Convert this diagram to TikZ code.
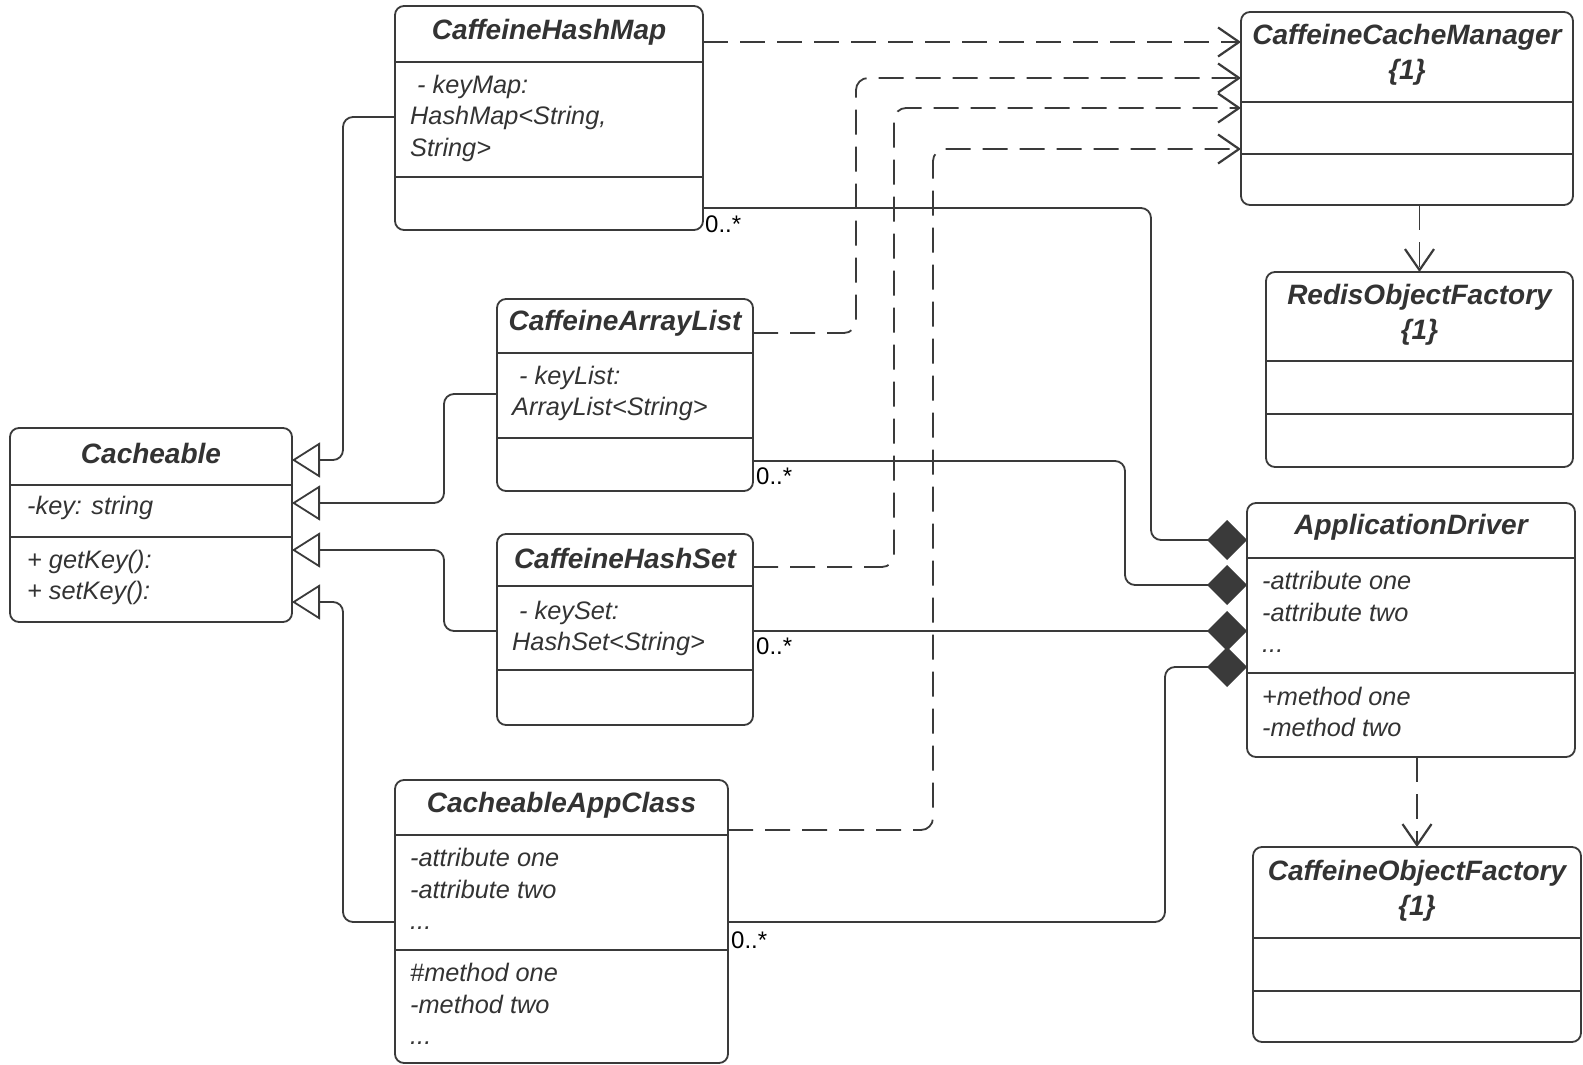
\documentclass[tikz,border=0pt]{standalone}
\usepackage{fontspec}
\setmainfont{Liberation Sans}
\usetikzlibrary{arrows.meta}
\definecolor{lc}{HTML}{3A3A3A}
\definecolor{tc}{HTML}{333333}
\begin{document}
\begin{tikzpicture}[x=1pt,y=-1pt,
 cls/.style={draw=lc, line width=1.8pt, rounded corners=9pt, inner sep=0pt, outer sep=0pt, anchor=north west, fill=white},
 ttl/.style={font=\fontsize{28}{35}\selectfont\bfseries\itshape, text=tc, align=center, inner sep=0pt},
 body/.style={font=\fontsize{25.3}{31.5}\selectfont\itshape, text=tc, align=left, inner sep=0pt, anchor=west},
 mult/.style={font=\fontsize{24}{28}\selectfont, text=black, inner sep=0pt, anchor=north west},
 div/.style={draw=lc, line width=1.8pt},
 gen/.style={draw=lc, line width=1.8pt, rounded corners=10pt, -{Triangle[open, length=28pt, width=35pt, fill=white]}},
 dep/.style={draw=lc, line width=1.8pt, dash pattern=on 25pt off 12pt, rounded corners=12pt, -{Straight Barb[length=21pt, width=29pt, line width=2.2pt]}},
 comp/.style={draw=lc, line width=1.8pt, rounded corners=10pt, -{Diamond[length=40pt, width=40pt, fill=lc]}}]
\fill[white] (0,0) rectangle (1583,1065);
\useasboundingbox (0,0) rectangle (1583,1065);

% Cacheable
\node[cls, minimum width=282pt, minimum height=194pt] (cb) at (10,428) {};
\draw[div] (cb.west |- 0,485) -- (cb.east |- 0,485);
\draw[div] (cb.west |- 0,537) -- (cb.east |- 0,537);
\node[ttl] (cbt) at (cb.north |- 0,453) {Cacheable};
\node[body] (cba) at (27,508) {-key: string};
\node[body] (cbm) at (27,577.5) {+ getKey():\\+ setKey():};

% CaffeineHashMap
\node[cls, minimum width=308pt, minimum height=224pt] (hm) at (395,6) {};
\draw[div] (hm.west |- 0,62) -- (hm.east |- 0,62);
\draw[div] (hm.west |- 0,177) -- (hm.east |- 0,177);
\node[ttl] (hmt) at (hm.north |- 0,32) {CaffeineHashMap};
\node[body] (hma) at (410,118) {\hspace*{7pt}- keyMap:\\HashMap<String,\\String>};

% CaffeineArrayList
\node[cls, minimum width=256pt, minimum height=192pt] (al) at (497,299) {};
\draw[div] (al.west |- 0,353) -- (al.east |- 0,353);
\draw[div] (al.west |- 0,438) -- (al.east |- 0,438);
\node[ttl] (alt) at (al.north |- 0,323) {CaffeineArrayList};
\node[body] (ala) at (512,393.5) {\hspace*{7pt}- keyList:\\ArrayList<String>};

% CaffeineHashSet
\node[cls, minimum width=256pt, minimum height=191pt] (hs) at (497,534) {};
\draw[div] (hs.west |- 0,586) -- (hs.east |- 0,586);
\draw[div] (hs.west |- 0,670) -- (hs.east |- 0,670);
\node[ttl] (hst) at (hs.north |- 0,558) {CaffeineHashSet};
\node[body] (hsa) at (512,628.5) {\hspace*{7pt}- keySet:\\HashSet<String>};

% CacheableAppClass
\node[cls, minimum width=333pt, minimum height=283pt] (ac) at (395,780) {};
\draw[div] (ac.west |- 0,835) -- (ac.east |- 0,835);
\draw[div] (ac.west |- 0,950) -- (ac.east |- 0,950);
\node[ttl] (act) at (ac.north |- 0,805) {CacheableAppClass};
\node[body] (aca) at (410,889) {-attribute one\\-attribute two\\...};
\node[body] (acm) at (410,1004) {\#method one\\-method two\\...};

% CaffeineCacheManager
\node[cls, minimum width=332pt, minimum height=193pt] (cm) at (1241,12) {};
\draw[div] (cm.west |- 0,102) -- (cm.east |- 0,102);
\draw[div] (cm.west |- 0,154) -- (cm.east |- 0,154);
\node[ttl] (cmt) at (cm.north |- 0,55) {CaffeineCacheManager\\\{1\}};

% RedisObjectFactory
\node[cls, minimum width=307pt, minimum height=195pt] (rf) at (1266,272) {};
\draw[div] (rf.west |- 0,361) -- (rf.east |- 0,361);
\draw[div] (rf.west |- 0,414) -- (rf.east |- 0,414);
\node[ttl] (rft) at (rf.north |- 0,315) {RedisObjectFactory\\\{1\}};

% ApplicationDriver
\node[cls, minimum width=328pt, minimum height=254pt] (ad) at (1247,503) {};
\draw[div] (ad.west |- 0,558) -- (ad.east |- 0,558);
\draw[div] (ad.west |- 0,673) -- (ad.east |- 0,673);
\node[ttl] (adt) at (ad.north |- 0,527) {ApplicationDriver};
\node[body] (ada) at (1262,612) {-attribute one\\-attribute two\\...};
\node[body] (adm) at (1262,712) {+method one\\-method two};

% CaffeineObjectFactory
\node[cls, minimum width=328pt, minimum height=195pt] (of) at (1253,847) {};
\draw[div] (of.west |- 0,938) -- (of.east |- 0,938);
\draw[div] (of.west |- 0,991) -- (of.east |- 0,991);
\node[ttl] (oft) at (of.north |- 0,891) {CaffeineObjectFactory\\\{1\}};

% generalizations
\draw[gen] (hm.west |- 0,117) -| (343,460) -- (cb.east |- 0,460);
\draw[gen] (al.west |- 0,394) -| (444,503) -- (cb.east |- 0,503);
\draw[gen] (hs.west |- 0,631) -| (444,550) -- (cb.east |- 0,550);
\draw[gen] (ac.west |- 0,922) -| (343,602) -- (cb.east |- 0,602);

% dependencies
\draw[dep] (hm.east |- 0,42) -- (cm.west |- 0,42);
\draw[dep] (al.east |- 0,333) -| (856,78) -- (cm.west |- 0,78);
\draw[dep] (hs.east |- 0,567) -| (894,108) -- (cm.west |- 0,108);
\draw[dep] (ac.east |- 0,830) -| (933,149) -- (cm.west |- 0,149);
\draw[dep] (rf.north |- cm.south) -- (rf.north);
\draw[dep] (of.north |- ad.south) -- (of.north);

% compositions
\draw[comp] (hm.east |- 0,208) -| (1151,540) -- (ad.west |- 0,540);
\draw[comp] (al.east |- 0,461) -| (1125,585) -- (ad.west |- 0,585);
\draw[comp] (hs.east |- 0,631) -- (ad.west |- 0,631);
\draw[comp] (ac.east |- 0,922) -| (1165,667) -- (ad.west |- 0,667);

% multiplicities
\node[mult] (m1) at (705,216) {0..*};
\node[mult] (m2) at (756,468) {0..*};
\node[mult] (m3) at (756,638) {0..*};
\node[mult] (m4) at (731,932) {0..*};
\end{tikzpicture}
\end{document}
